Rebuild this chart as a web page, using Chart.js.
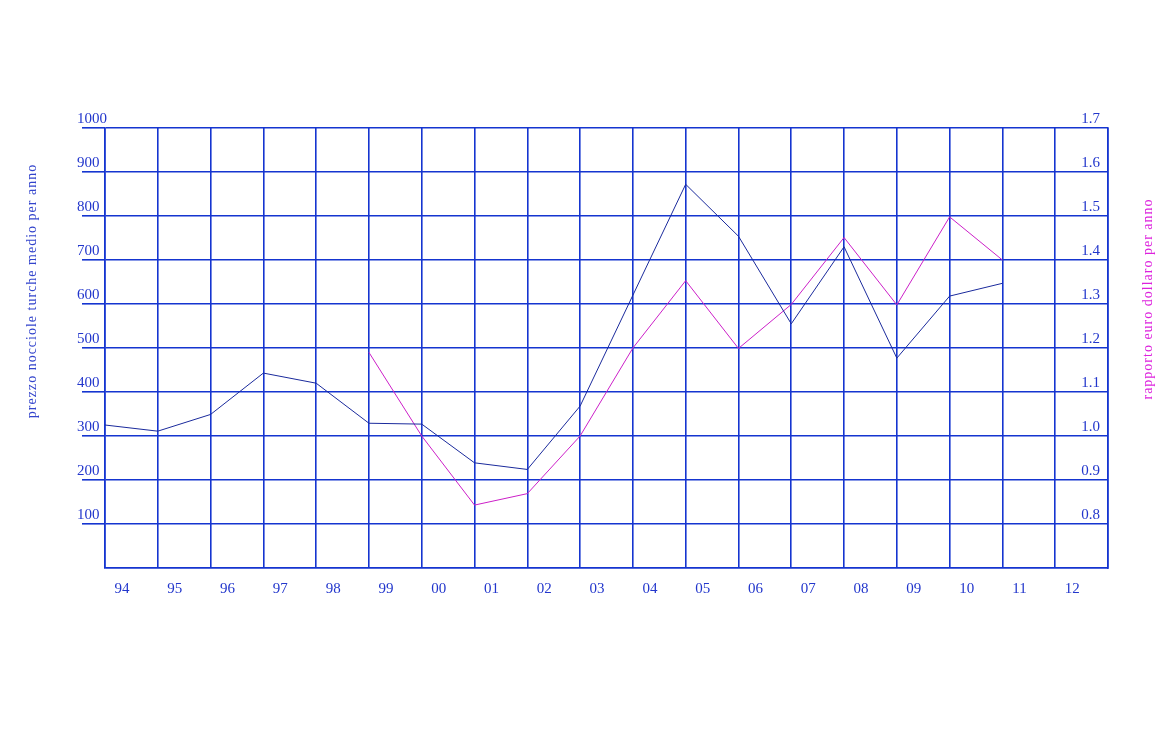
<!DOCTYPE html>
<html lang="it">
<head>
  <meta charset="UTF-8" />
  <title>Prezzo nocciole turche e rapporto euro dollaro</title>
  <script src="https://cdn.jsdelivr.net/npm/chart.js"></script>
  <style>
    html, body { margin: 0; padding: 0; background: #fff; }
    #wrap { width: 1167px; height: 737px; }
  </style>
</head>
<body>
  <div id="wrap"><canvas id="chart" width="1167" height="737"></canvas></div>

  <script>
    // anni (etichette asse x)
    const years = ['94','95','96','97','98','99','00','01','02','03','04','05','06','07','08','09','10','11','12'];
    // prezzo nocciole turche medio per anno (asse sinistro)
    const prezzo = [325, 311, 349, 443, 420, 329, 327, 239, 224, 368, 620, 872, 754, 555, 730, 477, 618, 647];
    // rapporto euro dollaro (asse destro), dal 99
    const cambio = [null, null, null, null, null, 1.19, 1.0, 0.843, 0.869, 1.0, 1.2, 1.353, 1.199, 1.299, 1.451, 1.298, 1.498, 1.4];

    const gridBlue = '#1535d0';
    const textBlue = '#2236cc';
    const lineBlue = '#1a2a9c';
    const magenta = '#cc1fc8';

    const toPoints = arr => arr.map((v, i) => ({ x: i, y: v }));

    // titoli degli assi, ruotati
    const axisTitles = {
      id: 'axisTitles',
      afterDraw(chart) {
        const ctx = chart.ctx;
        ctx.save();
        ctx.font = '14px "Liberation Serif", serif';
        ctx.letterSpacing = '1px';
        ctx.textAlign = 'center';
        ctx.textBaseline = 'middle';

        ctx.fillStyle = '#3344cc';
        ctx.save();
        ctx.translate(32, 291);
        ctx.rotate(-Math.PI / 2);
        ctx.fillText('prezzo nocciole turche medio per anno', 0, 0);
        ctx.restore();

        ctx.fillStyle = '#dd22dd';
        ctx.save();
        ctx.translate(1148, 299);
        ctx.rotate(-Math.PI / 2);
        ctx.fillText('rapporto euro dollaro per anno', 0, 0);
        ctx.restore();

        ctx.restore();
      }
    };

    new Chart(document.getElementById('chart'), {
      type: 'line',
      data: {
        datasets: [
          {
            label: 'prezzo',
            data: toPoints(prezzo),
            borderColor: lineBlue,
            borderWidth: 1,
            pointRadius: 0,
            tension: 0,
            yAxisID: 'y'
          },
          {
            label: 'cambio',
            data: toPoints(cambio),
            borderColor: magenta,
            borderWidth: 1,
            pointRadius: 0,
            tension: 0,
            spanGaps: false,
            yAxisID: 'y1'
          }
        ]
      },
      options: {
        responsive: false,
        animation: false,
        layout: { padding: { left: 77, right: 59, top: 128, bottom: 129 } },
        plugins: {
          legend: { display: false },
          tooltip: { enabled: false }
        },
        scales: {
          x: {
            type: 'linear',
            min: 0,
            max: 19,
            afterFit: s => { s.height = 40; },
            grid: { color: gridBlue, lineWidth: 1.6, drawTicks: false },
            border: { color: gridBlue, width: 1.6 },
            ticks: {
              stepSize: 1,
              autoSkip: false,
              maxRotation: 0,
              padding: 12,
              labelOffset: 17,
              color: textBlue,
              font: { family: '"Liberation Serif", serif', size: 15 },
              callback: v => years[v] || ''
            }
          },
          y: {
            position: 'left',
            min: 0,
            max: 1000,
            afterFit: s => { s.width = 28; },
            grid: {
              color: gridBlue,
              lineWidth: 1.6,
              tickLength: 23,
              tickColor: c => (c.tick && c.tick.value === 0 ? 'rgba(0,0,0,0)' : gridBlue)
            },
            border: { color: gridBlue, width: 1.6 },
            ticks: {
              stepSize: 100,
              mirror: true,
              padding: -28,
              labelOffset: -9,
              color: textBlue,
              font: { family: '"Liberation Serif", serif', size: 15 },
              callback: v => (v === 0 ? '' : String(v))
            }
          },
          y1: {
            position: 'right',
            min: 0.7,
            max: 1.7,
            afterFit: s => { s.width = 0; },
            grid: { display: false },
            border: { color: gridBlue, width: 1.6 },
            ticks: {
              stepSize: 0.1,
              mirror: true,
              padding: -8,
              labelOffset: -9,
              color: textBlue,
              font: { family: '"Liberation Serif", serif', size: 15 },
              callback: v => (v < 0.75 ? '' : v.toFixed(1))
            }
          }
        }
      },
      plugins: [axisTitles]
    });
  </script>
</body>
</html>
